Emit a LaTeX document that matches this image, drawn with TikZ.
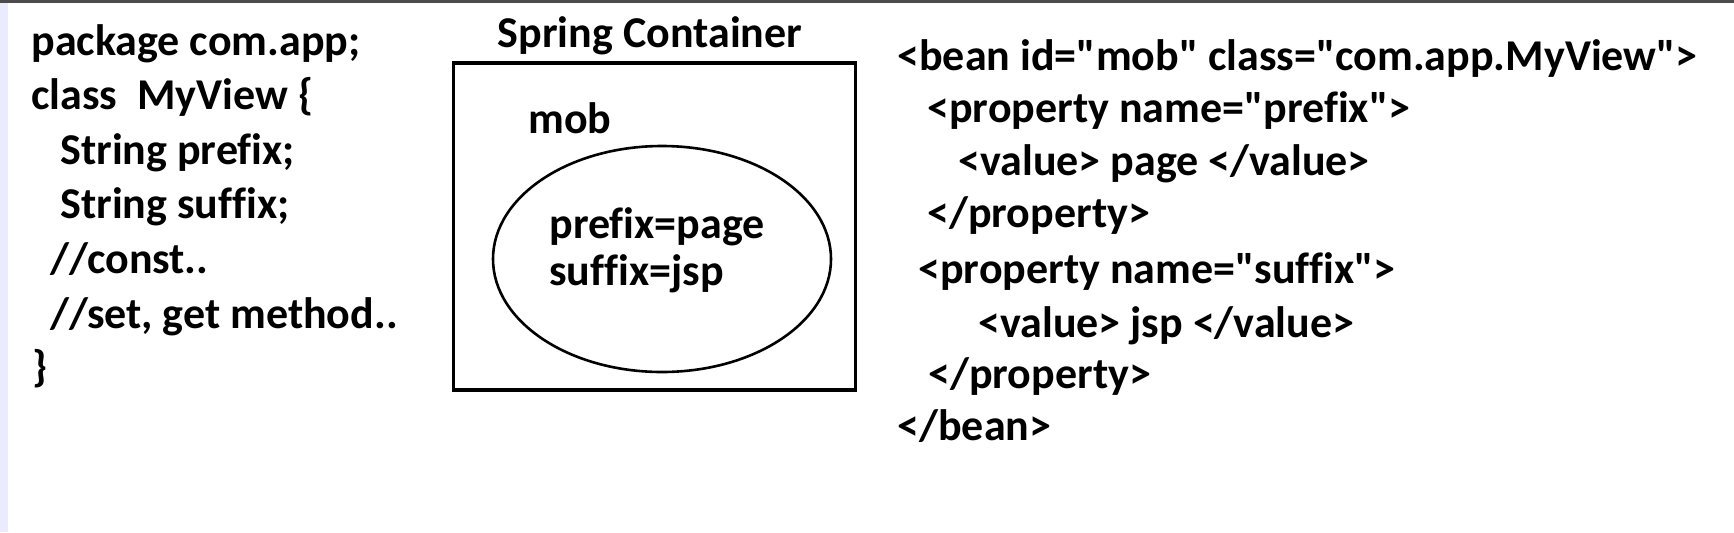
\documentclass[tikz,border=0pt]{standalone}
\usepackage{fontspec}
\newfontfamily\codefont[Ligatures=NoCommon]{Carlito}
\usetikzlibrary{shapes.geometric}

\begin{document}
\begin{tikzpicture}[x=0.5pt,y=-0.5pt]
\tikzstyle{every node}=[inner sep=0pt, font=\fontsize{22}{22}\selectfont\codefont\bfseries]
\tikzstyle{code}=[anchor=base west]
\useasboundingbox (0,0) rectangle (1734,532);
\fill[white] (0,0) rectangle (1734,532);
\fill[blue!8!white] (0,0) rectangle (8,532);
\draw[line width=1.5pt, black!70] (0,1.5) -- (1734,1.5);
% java class
\draw (31,55) node (l1) [code] {package com.app;};
\draw (31,109) node (l2) [code] {class\ \ MyView \{};
\draw (60,164) node (l3) [code] {String prefix;};
\draw (60,218) node (l4) [code] {String suffix;};
\draw (50,273) node (l5) [code] {//const..};
\draw (50,328) node (l6) [code] {//set, get method..};
\draw (32,381) node (l7) [code] {\}};
% container
\draw (650,47) node (title) [anchor=base] {Spring Container};
\draw (654.5,226.5) node (box) [draw, rectangle, line width=1.7pt, minimum width=201pt, minimum height=163.5pt] {};
\draw (528,133) node (mob) [code] {mob};
\draw (662,259) node (bean) [draw, ellipse, line width=1.3pt, minimum width=169pt, minimum height=113pt] {};
\draw (549,238) node (p1) [code] {prefix=page};
\draw (549,285) node (p2) [code] {suffix=jsp};
% xml config
\draw (897,70) node (x1) [code] {<bean id="mob" class="com.app.MyView">};
\draw (927,122) node (x2) [code] {<property name="prefix">};
\draw (958,175) node (x3) [code] {<value> page </value>};
\draw (927,227) node (x4) [code] {</property>};
\draw (918,283) node (x5) [code] {<property name="suffix">};
\draw (978,337) node (x6) [code] {<value> jsp </value>};
\draw (928,388) node (x7) [code] {</property>};
\draw (897,440) node (x8) [code] {</bean>};
\end{tikzpicture}
\end{document}
